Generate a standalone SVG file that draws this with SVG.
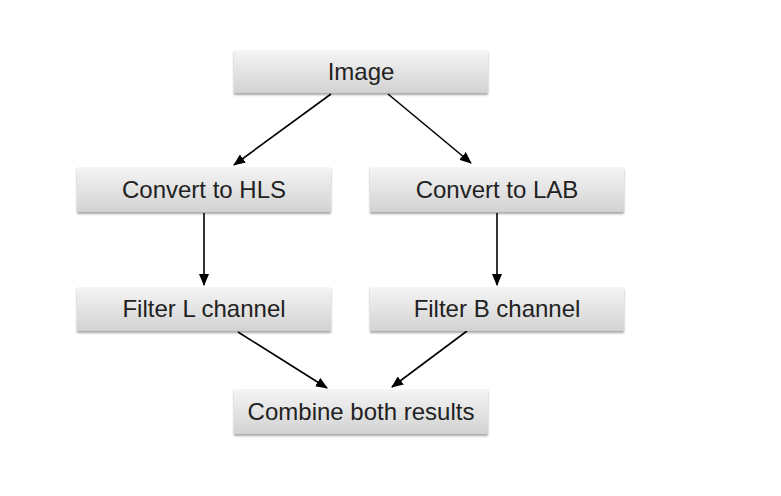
<svg xmlns="http://www.w3.org/2000/svg" width="781" height="496" viewBox="0 0 781 496">
<defs>
<linearGradient id="g" x1="0" y1="0" x2="0" y2="1">
<stop offset="0" stop-color="#f5f5f5"/>
<stop offset="1" stop-color="#d2d2d2"/>
</linearGradient>
<filter id="sh" x="-10%" y="-20%" width="120%" height="150%">
<feGaussianBlur in="SourceAlpha" stdDeviation="1.2"/>
<feOffset dy="1.5"/>
<feComponentTransfer><feFuncA type="linear" slope="0.35"/></feComponentTransfer>
<feMerge><feMergeNode/><feMergeNode in="SourceGraphic"/></feMerge>
</filter>
<marker id="ah" viewBox="0 0 12 10" refX="11" refY="5" markerWidth="12" markerHeight="10" markerUnits="userSpaceOnUse" orient="auto">
<path d="M0,0 L12,5 L0,10 z" fill="#000"/>
</marker>
</defs>
<style>
.box{fill:url(#g);filter:url(#sh);}
.lbl{font-family:"Liberation Sans",Arial,sans-serif;font-size:24px;fill:#222;text-anchor:middle;}
.cn{stroke:#000;stroke-width:1.6;fill:none;marker-end:url(#ah);}
</style>
<rect width="781" height="496" fill="#fff"/>
<g id="connectors">
<line class="cn" x1="331" y1="94" x2="234" y2="165"/>
<line class="cn" x1="388" y1="94" x2="471" y2="163"/>
<line class="cn" x1="204" y1="213" x2="204" y2="285"/>
<line class="cn" x1="497" y1="213" x2="497" y2="285"/>
<line class="cn" x1="238" y1="332" x2="327" y2="388"/>
<line class="cn" x1="467" y1="331" x2="392" y2="387"/>
</g>
<g id="image"><rect class="box" x="234" y="50" width="254" height="43"/><text class="lbl" x="361" y="80">Image</text></g>
<g id="hls"><rect class="box" x="77" y="167" width="254" height="45"/><text class="lbl" x="204" y="198">Convert to HLS</text></g>
<g id="lab"><rect class="box" x="370" y="167" width="254" height="45"/><text class="lbl" x="497" y="198">Convert to LAB</text></g>
<g id="filterL"><rect class="box" x="77" y="287" width="254" height="44"/><text class="lbl" x="204" y="317">Filter L channel</text></g>
<g id="filterB"><rect class="box" x="370" y="287" width="254" height="44"/><text class="lbl" x="497" y="317">Filter B channel</text></g>
<g id="combine"><rect class="box" x="234" y="389" width="254" height="45"/><text class="lbl" x="361" y="420">Combine both results</text></g>
</svg>
